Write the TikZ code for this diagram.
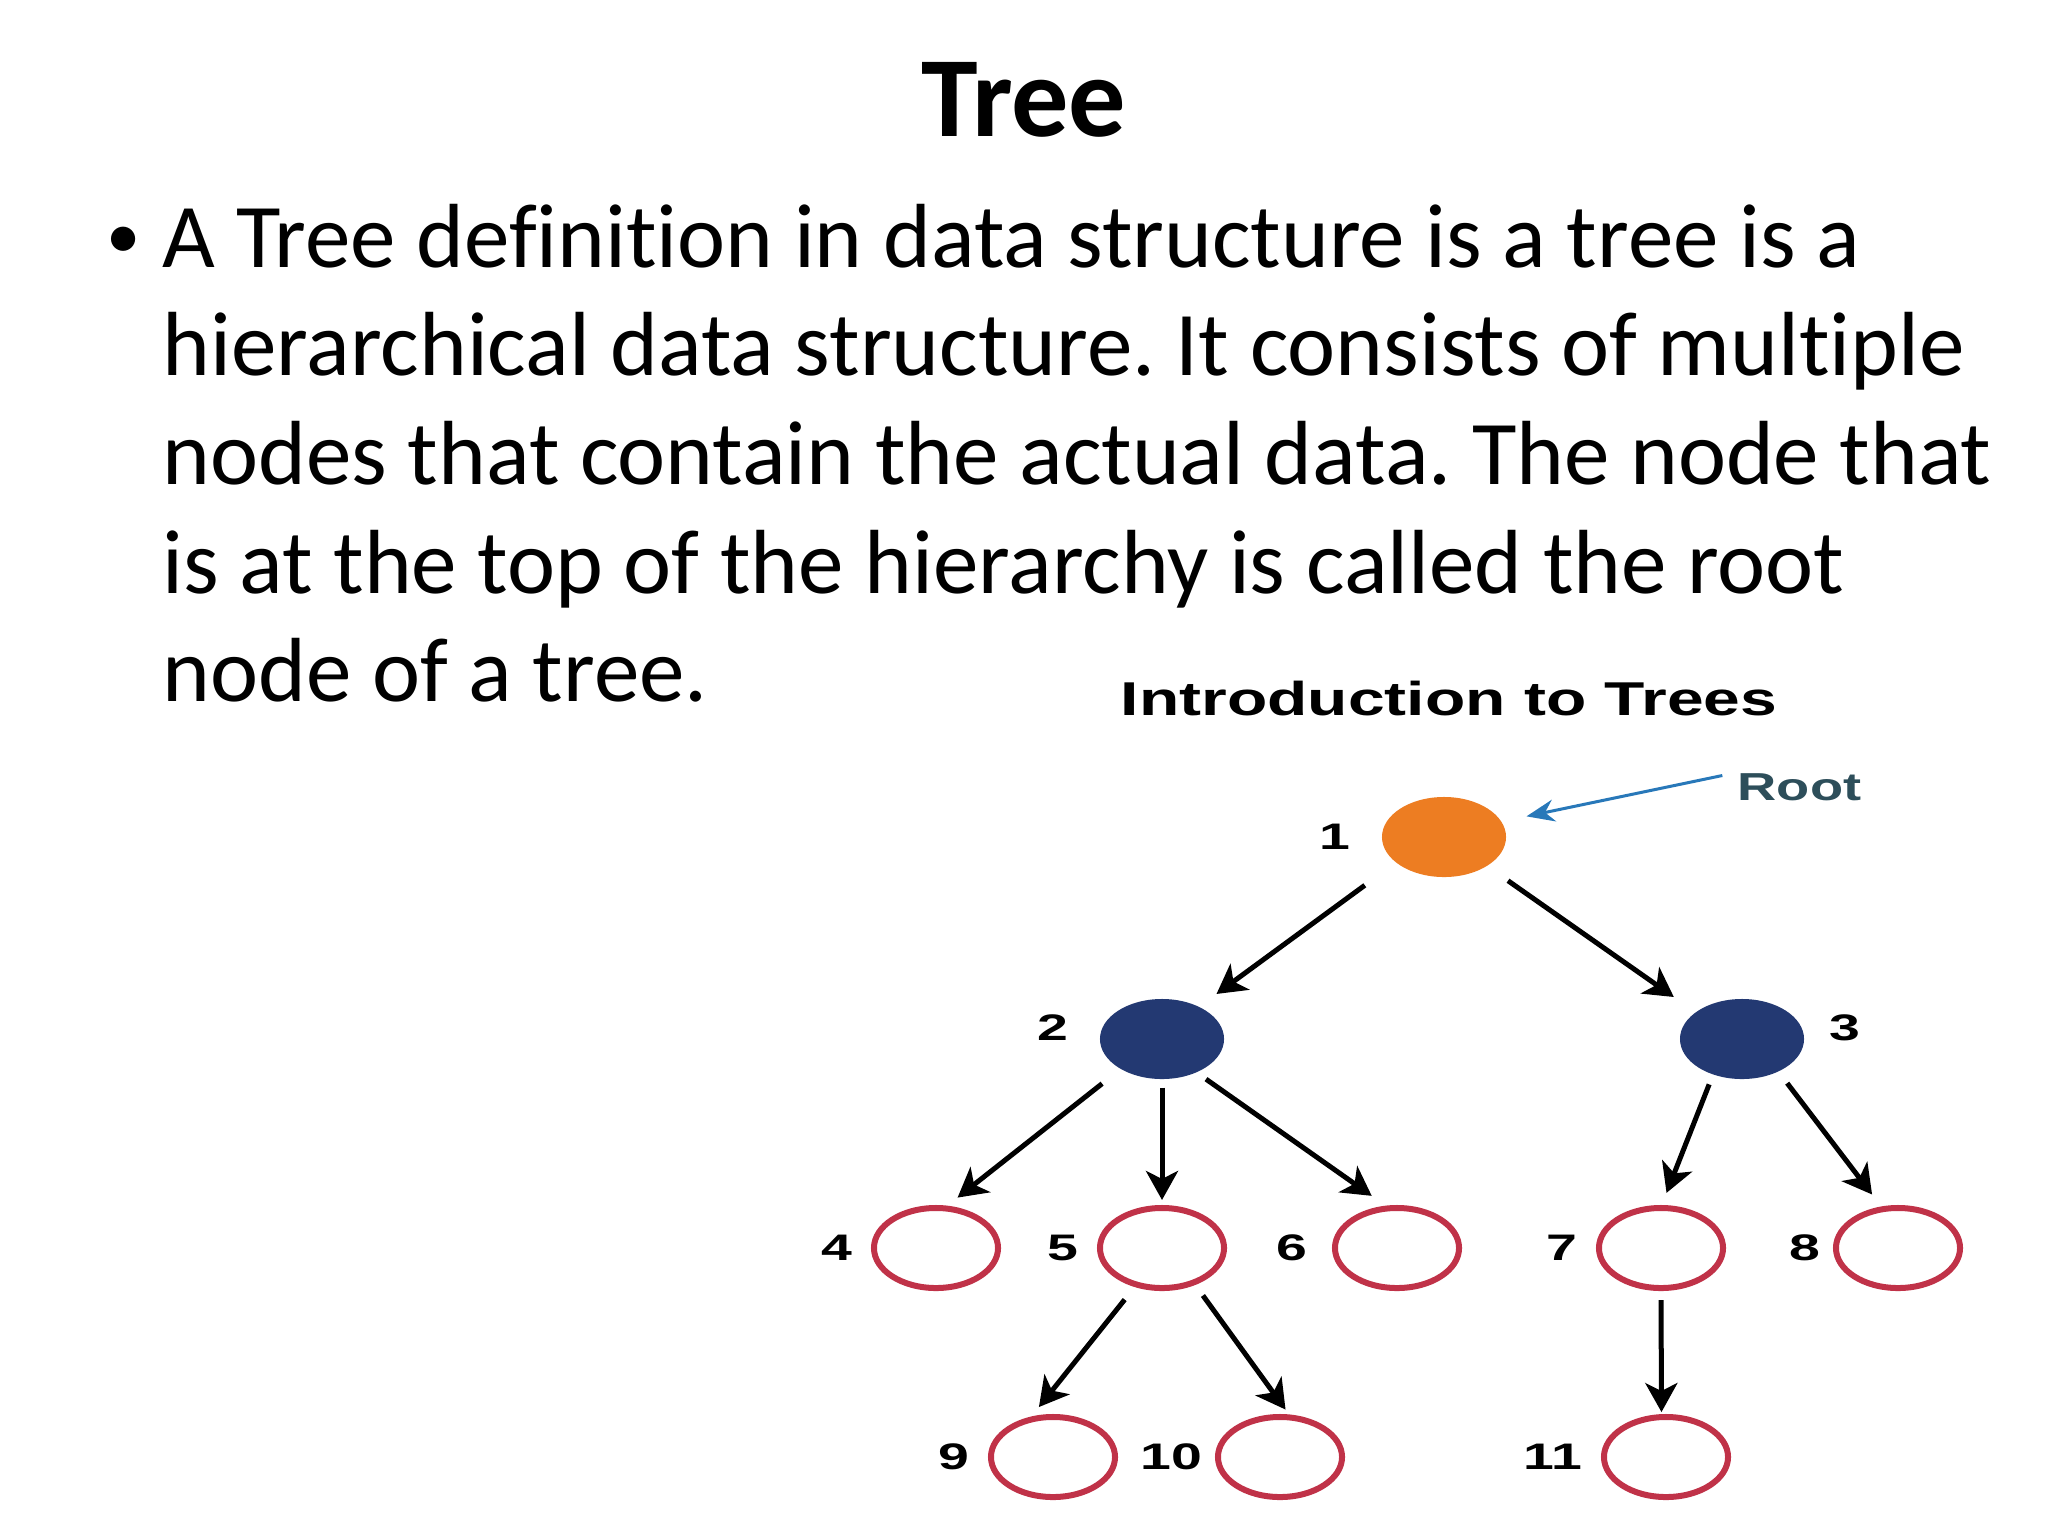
\documentclass[tikz,border=0pt]{standalone}
\usepackage{fontspec}
\setmainfont[Ligatures=NoCommon]{Carlito}
\newfontfamily\figfont[FakeStretch=1.39]{Liberation Sans}
\newfontfamily\numfont[FakeStretch=1.5]{Liberation Sans}
\usetikzlibrary{shapes.geometric,arrows.meta}
\definecolor{rootorange}{RGB}{237,125,34}
\definecolor{innernavy}{RGB}{35,57,114}
\definecolor{leafred}{RGB}{192,50,72}
\definecolor{pointblue}{RGB}{40,120,185}
\definecolor{roottext}{RGB}{45,78,90}
\frenchspacing

\begin{document}
\begin{tikzpicture}[x=0.01cm,y=-0.01cm,
  tnode/.style={ellipse,minimum width=1.24cm,minimum height=0.8cm,inner sep=0pt},
  rootnode/.style={tnode,fill=rootorange},
  innernode/.style={tnode,fill=innernavy},
  leaf/.style={tnode,draw=leafred,line width=0.06cm},
  num/.style={font=\numfont\bfseries\fontsize{10.5}{12}\selectfont,inner sep=0pt},
  edge/.style={line width=0.05cm,-{Stealth[length=0.29cm,width=0.32cm,inset=0.08cm]}},
  label distance=0.18cm]
\useasboundingbox (0,0) rectangle (2048,1536);

% slide text
\node[anchor=base,inner sep=0pt,font=\bfseries\fontsize{32.5}{38}\selectfont] (title) at (1024,136) {Tree};
\node[inner sep=0pt,font=\fontsize{19.5}{24}\selectfont] (dot) at (124,243) {•};
\foreach \txt [count=\i] in {A Tree definition in data structure is a tree is a,%
  hierarchical data structure. It consists of multiple,%
  nodes that contain the actual data. The node that,%
  is at the top of the hierarchy is called the root,%
  node of a tree.}
  \node[anchor=base west,inner sep=0pt,font=\fontsize{25.9}{31}\selectfont] (line\i) at (162,{267+108.7*(\i-1)}) {\txt};

% tree picture
\node[anchor=base,inner sep=0pt,font=\figfont\bfseries\fontsize{13.5}{16}\selectfont] (heading) at (1449,715) {Introduction to Trees};
\node[anchor=base west,inner sep=0pt,text=roottext,font=\figfont\bfseries\fontsize{11.1}{13}\selectfont] (root) at (1737,800) {Root};

\node[rootnode,label={[num,xshift=-0.12cm]left:1}] (n1) at (1444,837) {};
\node[innernode,label={[num,xshift=-0.12cm,yshift=0.11cm]left:2}] (n2) at (1162,1039) {};
\node[innernode,label={[num,xshift=0.06cm,yshift=0.11cm]right:3}] (n3) at (1742,1039) {};
\node[leaf,label={[num]left:4}] (n4) at (936,1248) {};
\node[leaf,label={[num]left:5}] (n5) at (1162,1248) {};
\node[leaf,label={[num,xshift=-0.06cm]left:6}] (n6) at (1397,1248) {};
\node[leaf,label={[num]left:7}] (n7) at (1661,1248) {};
\node[leaf,label={[num,xshift=0.06cm]left:8}] (n8) at (1898,1248) {};
\node[leaf,label={[num]left:9}] (n9) at (1053,1457) {};
\node[leaf,label={[num,xshift=0.06cm]left:10}] (n10) at (1280,1457) {};
\node[leaf,label={[num]left:11}] (n11) at (1666,1457) {};

% parent/angle/child/angle/gap at start/gap at tip
\foreach \a/\sa/\b/\eb/\gs/\ge in {1/208/2/41/0.38cm/0.21cm,1/326/3/150/0.25cm/0.26cm,
  2/216/4/75/0.23cm/0.13cm,2/270/5/90/0.08cm/0.05cm,2/316/6/105/0.11cm/0.17cm,
  3/231/7/89/0.10cm/0.13cm,3/318/8/112/0.14cm/0.15cm,
  5/235/9/118/0.16cm/0.12cm,5/312/10/78/0.13cm/0.06cm,7/270/11/96/0.09cm/0.02cm}
  \draw[edge,shorten <=\gs,shorten >=\ge] (n\a.\sa) -- (n\b.\eb);
\draw[pointblue,line width=0.03cm,-{Stealth[length=0.28cm,width=0.22cm]},shorten <=0.15cm,shorten >=0.25cm] (root.north west) -- (n1.15);

\end{tikzpicture}
\end{document}
